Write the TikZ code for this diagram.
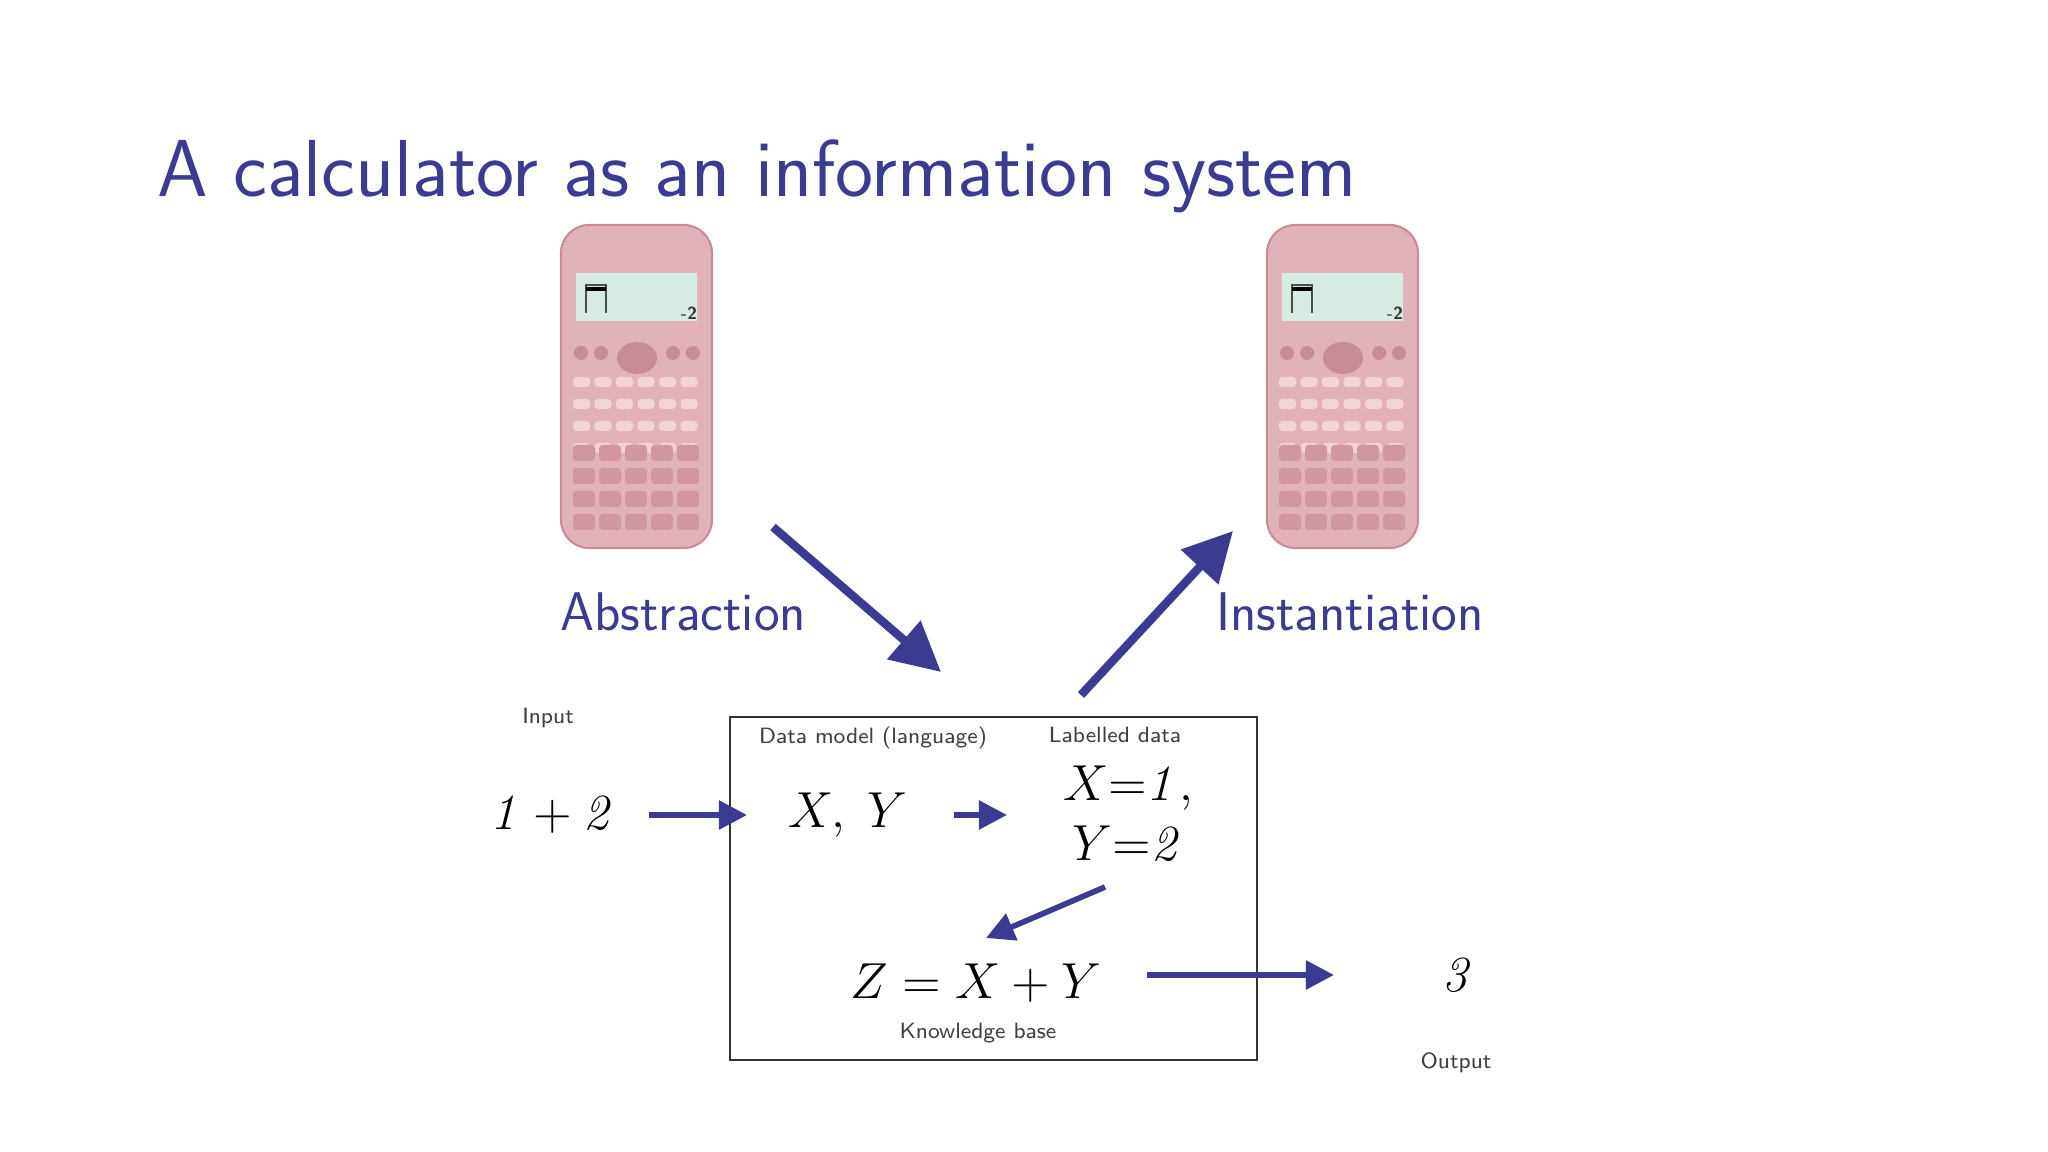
\documentclass[tikz,border=0pt]{standalone}
\usetikzlibrary{arrows.meta}
\definecolor{bblue}{RGB}{59,59,145}
\definecolor{cpink}{RGB}{226,178,186}
\definecolor{ckey}{RGB}{240,212,216}
\definecolor{cdark}{RGB}{200,140,152}
\definecolor{cnum}{RGB}{210,150,162}
\definecolor{cscreen}{RGB}{214,236,226}
\tikzset{
 big/.style={draw=bblue,line width=2.4pt,-{Triangle[length=14pt,width=14pt]}},
 small/.style={draw=bblue,line width=1.6pt,-{Triangle[length=8pt,width=8pt]}},
 lab/.style={font=\sffamily\fontsize{6.3}{7}\selectfont,text=black!75},
 mth/.style={font=\fontsize{14.5}{17}\selectfont},
 calcbody/.style={fill=cpink,draw=cdark,rounded corners=8pt,line width=0.6pt},
}
\newcommand{\calculator}[2]{%
 \begin{scope}[shift={(#1,#2)}]
  \path[calcbody] (0,0) rectangle (1.51,-3.23);
  \fill[cscreen] (0.15,-0.48) rectangle (1.36,-0.96);
  \draw[black!70,line width=0.4pt] (0.25,-0.88)--(0.25,-0.6)--(0.45,-0.6)--(0.45,-0.88);
  \fill[black] (0.25,-0.62) rectangle (0.45,-0.66);
  \node[font=\sffamily\tiny\bfseries,text=black!80] at (1.28,-0.88) {-2};
  \foreach \x in {0.2,0.4,1.12,1.32} \fill[cdark] (\x,-1.28) circle (0.07);
  \fill[cdark] (0.76,-1.33) ellipse (0.2 and 0.16);
  \foreach \r in {0,...,3} \foreach \c in {0,...,5}
   \fill[ckey,rounded corners=1pt] (0.12+\c*0.215,-1.52-\r*0.22) rectangle ++(0.17,-0.1);
  \foreach \r in {0,...,3} \foreach \c in {0,...,4}
   \fill[cnum,rounded corners=1pt] (0.12+\c*0.26,-2.2-\r*0.23) rectangle ++(0.22,-0.16);
 \end{scope}}
\begin{document}
\begin{tikzpicture}[x=1cm,y=1cm]
\useasboundingbox[fill=white] (0,0) rectangle (20.48,-11.52);
\node[anchor=base west,inner sep=0,text=bblue,font=\sffamily\fontsize{23}{27}\selectfont] (title) at (1.57,-1.97) {A calculator as an information system};
\calculator{5.61}{-2.25}
\calculator{12.67}{-2.25}
\node[text=bblue,font=\sffamily\fontsize{15.5}{18}\selectfont] (abs) at (6.83,-6.12) {Abstraction};
\node[text=bblue,font=\sffamily\fontsize{15.5}{18}\selectfont] (ins) at (13.50,-6.12) {Instantiation};
\coordinate (a1) at (7.73,-5.27); \coordinate (a2) at (9.41,-6.72);
\coordinate (b1) at (10.81,-6.95); \coordinate (b2) at (12.33,-5.31);
\draw[big] (a1)--(a2);
\draw[big] (b1)--(b2);
\node[draw=black!80,line width=0.6pt,minimum width=5.27cm,minimum height=3.43cm,anchor=north west] (box) at (7.29,-7.16) {};
\node[lab] (inp) at (5.48,-7.18) {Input};
\node[lab] (dm) at (8.73,-7.38) {Data model (language)};
\node[lab] (ld) at (11.15,-7.35) {Labelled data};
\node[lab] (kb) at (9.78,-10.33) {Knowledge base};
\node[lab] (out) at (14.56,-10.63) {Output};
\node[mth] (in) at (5.53,-8.15) {$\mathit{1} + \mathit{2}$};
\node[mth] (xy) at (8.48,-8.15) {$X,\;Y$};
\node[mth,align=center] (lab1) at (11.28,-8.13) {$X{=}\mathit{1},$\\[0pt]$Y{=}\mathit{2}$};
\node[mth] (z) at (9.76,-9.83) {$Z = X + Y$};
\node[mth] (three) at (14.59,-9.75) {$\mathit{3}$};
\coordinate (c1) at (11.05,-8.87); \coordinate (c2) at (9.86,-9.38);
\draw[small] (6.49,-8.15)--(7.47,-8.15);
\draw[small] (9.54,-8.15)--(10.07,-8.15);
\draw[small] (c1)--(c2);
\draw[small] (11.47,-9.75)--(13.34,-9.75);
\end{tikzpicture}
\end{document}
